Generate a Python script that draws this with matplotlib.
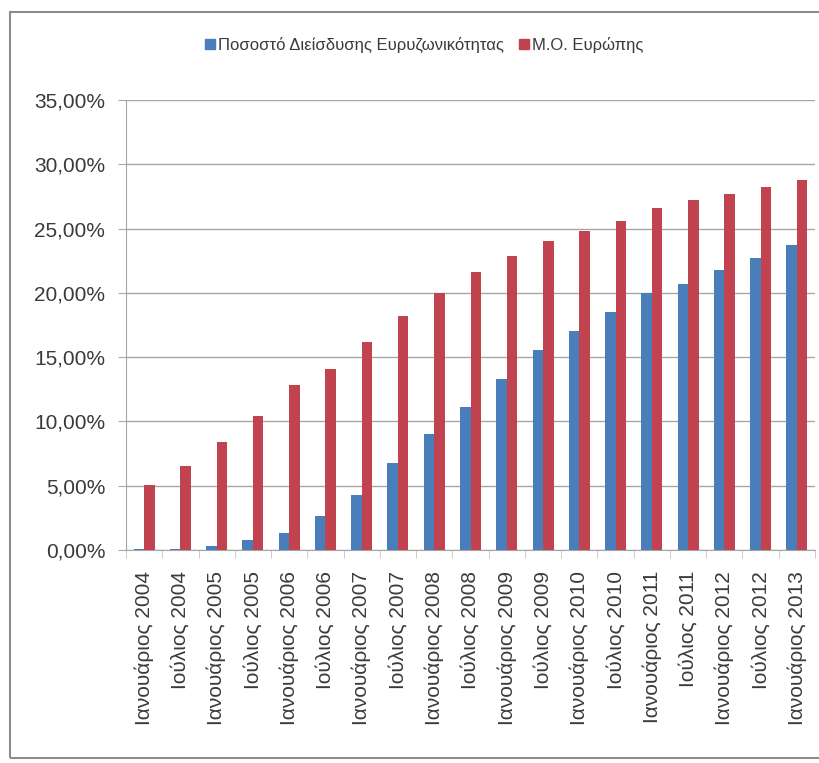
import matplotlib
matplotlib.use('Agg')
import matplotlib.pyplot as plt
from matplotlib.patches import Rectangle, Patch
from matplotlib.ticker import FuncFormatter, FixedLocator
import numpy as np

# categories (half-year snapshots)
periods = ['Ιανουάριος 2004', 'Ιούλιος 2004', 'Ιανουάριος 2005', 'Ιούλιος 2005',
           'Ιανουάριος 2006', 'Ιούλιος 2006', 'Ιανουάριος 2007', 'Ιούλιος 2007',
           'Ιανουάριος 2008', 'Ιούλιος 2008', 'Ιανουάριος 2009', 'Ιούλιος 2009',
           'Ιανουάριος 2010', 'Ιούλιος 2010', 'Ιανουάριος 2011', 'Ιούλιος 2011',
           'Ιανουάριος 2012', 'Ιούλιος 2012', 'Ιανουάριος 2013']

# values in percent
greece = [0.05, 0.1, 0.35, 0.8, 1.3, 2.65, 4.3, 6.8, 9.0, 11.15, 13.3, 15.55,
          17.0, 18.5, 20.0, 20.7, 21.8, 22.7, 23.7]
europe = [5.05, 6.5, 8.4, 10.45, 12.8, 14.1, 16.2, 18.2, 20.0, 21.6, 22.9, 24.0,
          24.8, 25.6, 26.6, 27.2, 27.7, 28.2, 28.8]

series_names = ['Ποσοστό Διείσδυσης Ευρυζωνικότητας', 'Μ.Ο. Ευρώπης']
yticks = [0, 5, 10, 15, 20, 25, 30, 35]

blue = '#4A7EBB'
red = '#C0434F'
grid_col = '#A6A6A6'
txt_col = '#3a3a3a'

plt.rcParams['font.family'] = ['Liberation Sans', 'DejaVu Sans']

fig = plt.figure(figsize=(8.19, 7.63), dpi=100)
ax = fig.add_axes([126/819., 1 - 550/763., (815 - 126)/819., 450/763.])

x = np.arange(len(periods))
w = 0.29
ax.bar(x - w/2, greece, w, color=blue, zorder=3)
ax.bar(x + w/2, europe, w, color=red, zorder=3)

ax.set_xlim(-0.5, len(periods) - 0.5)
ax.set_ylim(0, 35)
ax.set_yticks(yticks)
ax.yaxis.set_major_formatter(FuncFormatter(lambda v, p: ('%.2f%%' % v).replace('.', ',')))
ax.yaxis.grid(True, color=grid_col, linewidth=1.0, zorder=0)

ax.set_xticks(x)
ax.set_xticklabels(periods, rotation=90)
ax.xaxis.set_minor_locator(FixedLocator(np.arange(-0.5, len(periods), 1.0)))
ax.tick_params(axis='x', which='major', length=0, pad=15, labelsize=15, labelcolor=txt_col)
ax.tick_params(axis='x', which='minor', length=6, color='#c4c4c4')
ax.tick_params(axis='y', length=6, color=grid_col, labelsize=15, labelcolor=txt_col, pad=9)

for s in ['top', 'right']:
    ax.spines[s].set_visible(False)
ax.spines['left'].set_color(grid_col)
ax.spines['bottom'].set_color(grid_col)

# chart area frame
fig.patches.append(Rectangle((10/819., 5/763.), 1.2, 1 - 17/763., transform=fig.transFigure,
                             fill=False, edgecolor='#8c8c8c', linewidth=1.5))

handles = [Patch(color=blue), Patch(color=red)]
fig.legend(handles, series_names, loc='center', bbox_to_anchor=(0.518, 1 - 45/763.),
           ncol=2, frameon=False, fontsize=12, handlelength=0.6, handleheight=0.6,
           handletextpad=0.2, columnspacing=0.9, labelcolor=txt_col)

fig.savefig('out.png', dpi=100)
